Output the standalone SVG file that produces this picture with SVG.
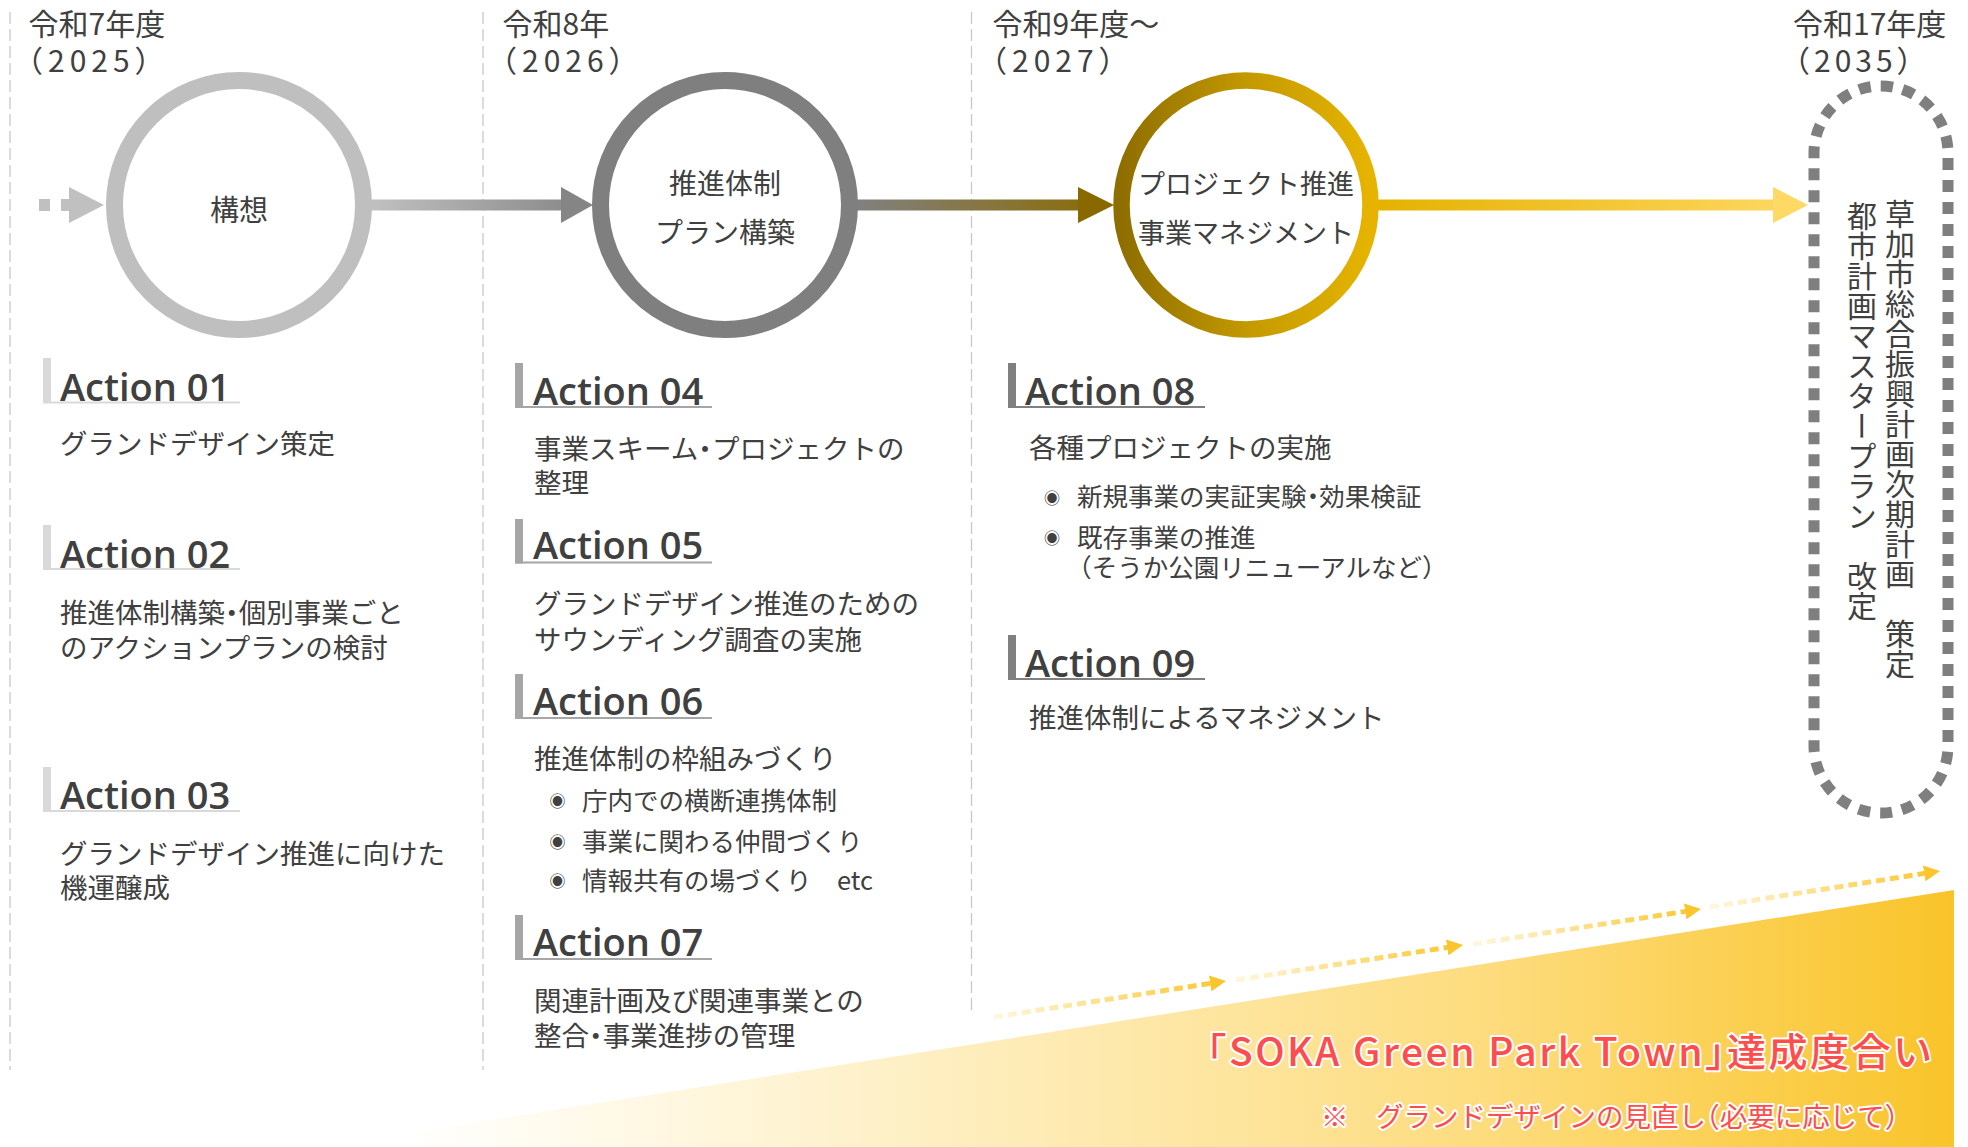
<svg xmlns="http://www.w3.org/2000/svg" width="1968" height="1147" viewBox="0 0 1968 1147">
<defs>
<style>
.jp{font-family:"Noto Sans CJK JP","Noto Sans",sans-serif;fill:#404040}
.hdr{font-size:30px}
.act{font-family:"Open Sans","Noto Sans",sans-serif;font-weight:600;font-size:38px;fill:#404040}
.desc{font-size:27.5px}
.bl{font-size:25.5px}
.h{font-feature-settings:"halt"}
.dot{font-family:"Noto Sans CJK JP",sans-serif;fill:#404040;font-size:16px;text-anchor:middle;dominant-baseline:central}
.lbl{text-anchor:middle}
.div{stroke:#c8c8c8;stroke-width:1.3;stroke-dasharray:12 5;fill:none}
.red{font-family:"Noto Sans CJK JP",sans-serif;fill:#ff4d4d;stroke:#fff;stroke-width:4;paint-order:stroke;stroke-linejoin:round}
.dash{fill:none;stroke:url(#gd);stroke-width:5;stroke-dasharray:9 5;marker-end:url(#mh)}
.b1{fill:#d9d9d9}.b2{fill:#a6a6a6}.b3{fill:#808080}
.vt{font-family:"Noto Sans CJK JP",sans-serif;fill:#404040;font-size:30px;writing-mode:vertical-rl}
</style>
<linearGradient id="g12" gradientUnits="userSpaceOnUse" x1="372" y1="0" x2="593" y2="0"><stop offset="0" stop-color="#c0c0c0"/><stop offset="1" stop-color="#858585"/></linearGradient>
<linearGradient id="g23" gradientUnits="userSpaceOnUse" x1="857" y1="0" x2="1114" y2="0"><stop offset="0" stop-color="#808080"/><stop offset="1" stop-color="#8c6b00"/></linearGradient>
<linearGradient id="g34" gradientUnits="userSpaceOnUse" x1="1378" y1="0" x2="1808" y2="0"><stop offset="0" stop-color="#e4b200"/><stop offset="1" stop-color="#ffd966"/></linearGradient>
<linearGradient id="gc3" x1="0" y1="0" x2="1" y2="0"><stop offset="0" stop-color="#8f6e00"/><stop offset="0.5" stop-color="#c39900"/><stop offset="1" stop-color="#e6b400"/></linearGradient>
<linearGradient id="gw" gradientUnits="userSpaceOnUse" x1="400" y1="0" x2="1954" y2="0"><stop offset="0" stop-color="#ffffff"/><stop offset="0.3" stop-color="#fef1ca"/><stop offset="0.7" stop-color="#fddc7e"/><stop offset="1" stop-color="#f9c42a"/></linearGradient>
<linearGradient id="gd" x1="0" y1="0" x2="1" y2="0"><stop offset="0" stop-color="#fff7de"/><stop offset="1" stop-color="#fbc832"/></linearGradient>
<marker id="mh" viewBox="0 0 16 16" refX="8" refY="8" markerWidth="16" markerHeight="16" markerUnits="userSpaceOnUse" orient="auto"><path d="M0,0 L16,8 L0,16 z" fill="#fbc52e"/></marker>
</defs>
<rect width="1968" height="1147" fill="#fff"/>

<g id="dividers">
<line class="div" x1="10" y1="12" x2="10" y2="1070"/>
<line class="div" x1="483" y1="12" x2="483" y2="1070"/>
<line class="div" x1="971.5" y1="12" x2="971.5" y2="1013"/>
</g>

<g id="achievement">
<polygon points="319,1147 1954,890 1954,1147" fill="url(#gw)"/>
</g>

<g id="connectors">
<rect x="39" y="199" width="11" height="12" fill="#c0c0c0"/>
<rect x="61" y="199" width="9" height="12" fill="#c0c0c0"/>
<polygon points="69,187 104,205 69,223" fill="#c0c0c0"/>
<rect x="370" y="199.5" width="195" height="11" fill="url(#g12)"/>
<polygon points="561,187 593,205 561,223" fill="#858585"/>
<rect x="855" y="199.5" width="225" height="11" fill="url(#g23)"/>
<polygon points="1078,187 1114,205 1078,223" fill="#8a6800"/>
<rect x="1376" y="199.5" width="399" height="11" fill="url(#g34)"/>
<polygon points="1773,187 1808,205 1773,223" fill="#ffd966"/>
<line class="dash" x1="994" y1="1017" x2="1218.1" y2="982.2"/>
<line class="dash" x1="1236" y1="980" x2="1455.1" y2="946.2"/>
<line class="dash" x1="1473" y1="944" x2="1693.1" y2="910.2"/>
<line class="dash" x1="1710" y1="907" x2="1932.1" y2="872.2"/>
</g>

<g id="headers">
<text class="jp hdr"><tspan x="28.5" y="35">令和7年度</tspan><tspan x="13" y="72" letter-spacing="5">（2025）</tspan></text>
<text class="jp hdr"><tspan x="502.5" y="35">令和8年</tspan><tspan x="487" y="72" letter-spacing="5">（2026）</tspan></text>
<text class="jp hdr"><tspan x="992.5" y="35">令和9年度～</tspan><tspan x="977" y="72" letter-spacing="5">（2027）</tspan></text>
<text class="jp hdr"><tspan x="1793" y="35">令和17年度</tspan><tspan x="1780" y="72" letter-spacing="4">（2035）</tspan></text>
</g>

<g id="node-kousou">
<circle cx="239" cy="205" r="124.5" fill="#fff" stroke="#bfbfbf" stroke-width="17"/>
<text class="jp lbl" x="239" y="221" font-size="29">構想</text>
</g>
<g id="node-suishin">
<circle cx="725" cy="205" r="124.5" fill="#fff" stroke="#7f7f7f" stroke-width="17"/>
<text class="jp lbl" font-size="28"><tspan x="725" y="194">推進体制</tspan><tspan x="725" y="243">プラン構築</tspan></text>
</g>
<g id="node-project">
<circle cx="1246" cy="205" r="124.5" fill="#fff" stroke="url(#gc3)" stroke-width="16.5"/>
<text class="jp lbl" font-size="27"><tspan x="1246" y="194">プロジェクト推進</tspan><tspan x="1246" y="243">事業マネジメント</tspan></text>
</g>
<g id="node-plan">
<rect x="1814" y="86" width="134" height="727" rx="67" fill="none" stroke="#7f7f7f" stroke-width="11" stroke-dasharray="12 10"/>
<text class="vt" x="1900" y="199">草加市総合振興計画次期計画　策定</text>
<text class="vt" x="1862" y="201">都市計画マスタープラン　改定</text>
</g>

<g id="action01">
<rect class="b1" x="43" y="358" width="8" height="45"/>
<rect class="b1" x="43" y="401.5" width="197" height="2"/>
<text class="act" x="60" y="401">Action 01</text>
<text class="jp desc" x="60" y="454">グランドデザイン策定</text>
</g>
<g id="action02">
<rect class="b1" x="43" y="525" width="8" height="45"/>
<rect class="b1" x="43" y="568" width="197" height="2"/>
<text class="act" x="60" y="567.5">Action 02</text>
<text class="jp desc h"><tspan x="60" y="622.5">推進体制構築・個別事業ごと</tspan><tspan x="60" y="657.5">のアクションプランの検討</tspan></text>
</g>
<g id="action03">
<rect class="b1" x="43" y="767" width="8" height="45"/>
<rect class="b1" x="43" y="810" width="197" height="2"/>
<text class="act" x="60" y="809">Action 03</text>
<text class="jp desc"><tspan x="60" y="863.5">グランドデザイン推進に向けた</tspan><tspan x="60" y="898">機運醸成</tspan></text>
</g>

<g id="action04">
<rect class="b2" x="515" y="363" width="8" height="44.5"/>
<rect class="b2" x="515" y="406" width="197" height="2"/>
<text class="act" x="533" y="405">Action 04</text>
<text class="jp desc h"><tspan x="534" y="459">事業スキーム・プロジェクトの</tspan><tspan x="534" y="493">整理</tspan></text>
</g>
<g id="action05">
<rect class="b2" x="515" y="519" width="8" height="44.5"/>
<rect class="b2" x="515" y="561.5" width="197" height="2"/>
<text class="act" x="533" y="559">Action 05</text>
<text class="jp desc"><tspan x="534" y="614">グランドデザイン推進のための</tspan><tspan x="534" y="650">サウンディング調査の実施</tspan></text>
</g>
<g id="action06">
<rect class="b2" x="515" y="674" width="8" height="45"/>
<rect class="b2" x="515" y="717" width="197" height="2"/>
<text class="act" x="533" y="715">Action 06</text>
<text class="jp desc" x="534" y="769">推進体制の枠組みづくり</text>
<text class="dot" x="557.5" y="800">◉</text>
<text class="jp bl" x="582" y="810">庁内での横断連携体制</text>
<text class="dot" x="557.5" y="840.5">◉</text>
<text class="jp bl" x="582" y="850.5">事業に関わる仲間づくり</text>
<text class="dot" x="557.5" y="880">◉</text>
<text class="jp bl" x="582" y="890">情報共有の場づくり　etc</text>
</g>
<g id="action07">
<rect class="b2" x="515" y="915" width="8" height="45"/>
<rect class="b2" x="515" y="958" width="197" height="2"/>
<text class="act" x="533" y="956">Action 07</text>
<text class="jp desc h"><tspan x="534" y="1011">関連計画及び関連事業との</tspan><tspan x="534" y="1046">整合・事業進捗の管理</tspan></text>
</g>

<g id="action08">
<rect class="b3" x="1008" y="363" width="8" height="44.5"/>
<rect class="b3" x="1008" y="406" width="197" height="2"/>
<text class="act" x="1025" y="405">Action 08</text>
<text class="jp desc" x="1029" y="458">各種プロジェクトの実施</text>
<text class="dot" x="1052" y="496.5">◉</text>
<text class="jp bl h" x="1077" y="506">新規事業の実証実験・効果検証</text>
<text class="dot" x="1052" y="536.5">◉</text>
<text class="jp bl h"><tspan x="1077" y="547">既存事業の推進</tspan><tspan x="1079" y="577">（そうか公園リニューアルなど）</tspan></text>
</g>
<g id="action09">
<rect class="b3" x="1008" y="635" width="8" height="44.5"/>
<rect class="b3" x="1008" y="678" width="197" height="2"/>
<text class="act" x="1025" y="676.5">Action 09</text>
<text class="jp desc" x="1029" y="728">推進体制によるマネジメント</text>
</g>

<g id="achievement-labels">
<text class="red h" x="1207" y="1066" font-size="39" font-weight="500" letter-spacing="2.5">「SOKA Green Park Town」達成度合い</text>
<text class="red h" x="1321" y="1127" font-size="27.5">※　グランドデザインの見直し（必要に応じて）</text>
</g>
</svg>
